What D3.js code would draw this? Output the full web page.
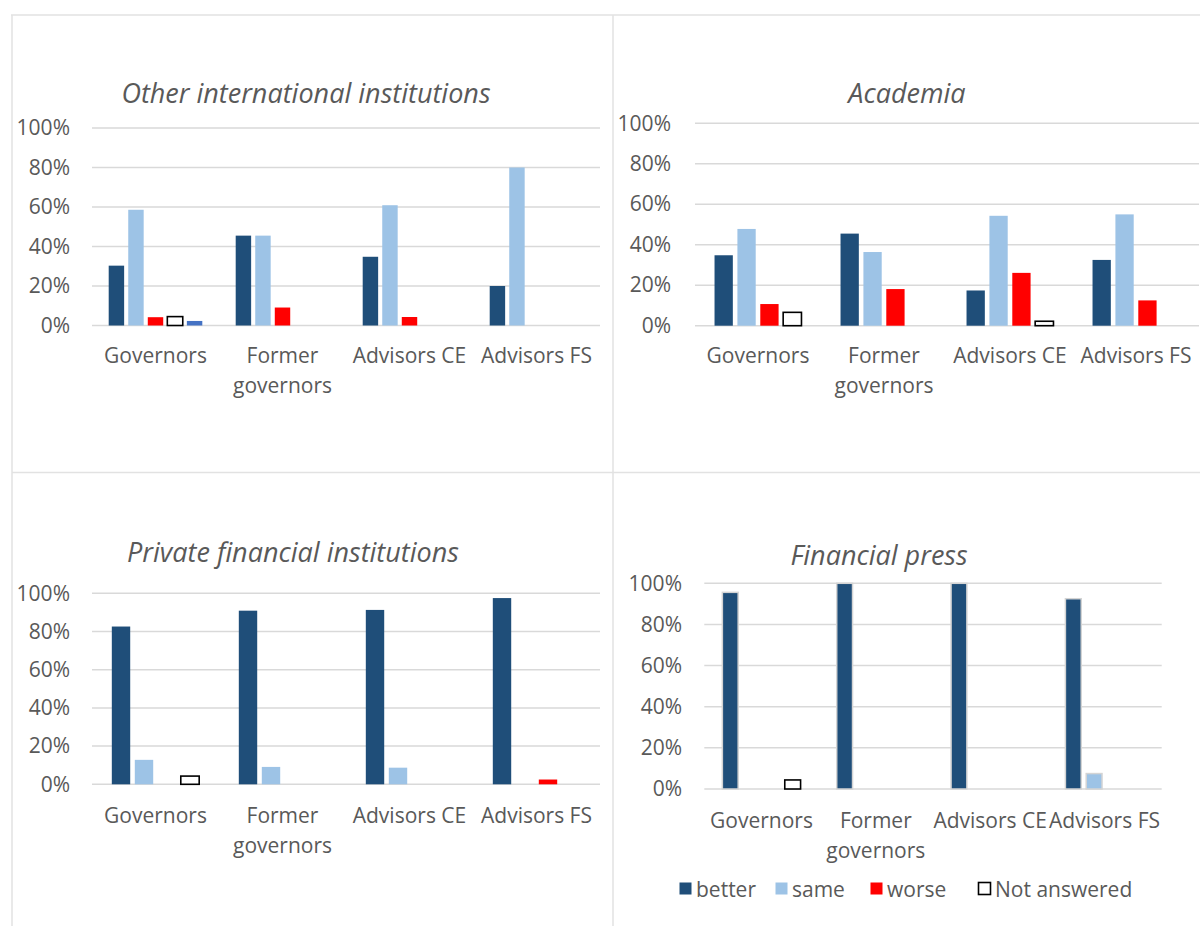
<!DOCTYPE html>
<html>
<head>
<meta charset="utf-8">
<script src="https://cdn.jsdelivr.net/npm/d3@7"></script>
<style>
  html, body { margin: 0; padding: 0; background: #fff; }
  svg { display: block; }
  text { font-family: "Open Sans", "Noto Sans", sans-serif; fill: #595959; }
</style>
</head>
<body>
<svg id="chart" width="1200" height="926"></svg>
<script>
// Respondent groups shown on every panel
const categories = ["Governors", "Former governors", "Advisors CE", "Advisors FS"];
const yTicks = [0, 20, 40, 60, 80, 100];

// Answer options (legend order); "other" only appears in the first panel
const seriesNames = ["better", "same", "worse", "Not answered"];
const legendLabels = ["better", "same", "worse", "Not answered"];

// Other international institutions (% of respondents)
const otherIntlBetter = [30.3, 45.5, 34.8, 20.0];
const otherIntlSame   = [58.6, 45.5, 60.9, 80.0];
const otherIntlWorse  = [4.2, 9.1, 4.3, 0];
const otherIntlNA     = [4.5, 0, 0, 0];
const otherIntlOther  = [2.3, 0, 0, 0];

// Academia
const academiaBetter = [34.8, 45.5, 17.4, 32.5];
const academiaSame   = [47.8, 36.4, 54.3, 55.0];
const academiaWorse  = [10.7, 18.1, 26.1, 12.5];
const academiaNA     = [6.6, 0, 2.2, 0];

// Private financial institutions
const privateBetter = [82.6, 90.9, 91.3, 97.5];
const privateSame   = [12.8, 9.1, 8.7, 0];
const privateWorse  = [0, 0, 0, 2.5];
const privateNA     = [4.3, 0, 0, 0];

// Financial press
const pressBetter = [95.6, 100, 100, 92.5];
const pressSame   = [0, 0, 0, 7.5];
const pressWorse  = [0, 0, 0, 0];
const pressNA     = [4.4, 0, 0, 0];

const colors = {
  "better": "#1F4E79",
  "same": "#9DC3E6",
  "worse": "#FF0000",
  "Not answered": "#FFFFFF",
  "other": "#4472C4"
};

const svg = d3.select("#chart");

// Panel frame lines
const frame = svg.append("g").attr("stroke", "#e2e2e2").attr("stroke-width", 1.5);
frame.append("line").attr("x1", 11).attr("x2", 1200).attr("y1", 15).attr("y2", 15);
frame.append("line").attr("x1", 12).attr("x2", 12).attr("y1", 15).attr("y2", 926);
frame.append("line").attr("x1", 613).attr("x2", 613).attr("y1", 15).attr("y2", 926);
frame.append("line").attr("x1", 12).attr("x2", 1200).attr("y1", 472.5).attr("y2", 472.5);

const panels = [
  {
    title: "Other international institutions", titleX: 306, titleY: 103,
    left: 92, right: 600, top: 128, bottom: 325.5, labelRight: 70,
    series: ["better", "same", "worse", "Not answered", "other"],
    values: [otherIntlBetter, otherIntlSame, otherIntlWorse, otherIntlNA, otherIntlOther],
    groupFrac: 0.737, pad: 0.21, catY: 363, stroke: null
  },
  {
    title: "Academia", titleX: 907, titleY: 103,
    left: 695, right: 1199, top: 123.3, bottom: 325.7, labelRight: 671,
    series: seriesNames,
    values: [academiaBetter, academiaSame, academiaWorse, academiaNA],
    groupFrac: 0.69, pad: 0.2, catY: 363, stroke: null
  },
  {
    title: "Private financial institutions", titleX: 293, titleY: 562,
    left: 92, right: 600, top: 593.3, bottom: 784.3, labelRight: 70,
    series: seriesNames,
    values: [privateBetter, privateSame, privateWorse, privateNA],
    groupFrac: 0.688, pad: 0.2, catY: 823, stroke: null
  },
  {
    title: "Financial press", titleX: 879, titleY: 565,
    left: 704.3, right: 1161.7, top: 583.3, bottom: 789, labelRight: 682,
    series: seriesNames,
    values: [pressBetter, pressSame, pressWorse, pressNA],
    groupFrac: 0.684, pad: 0.24, catY: 828, stroke: "#d4d4d4"
  }
];

panels.forEach(p => {
  const g = svg.append("g");

  const y = d3.scaleLinear().domain([0, 100]).range([p.bottom, p.top]);
  const x0 = d3.scaleBand().domain(categories).range([p.left, p.right]).padding(0);
  const groupW = x0.step() * p.groupFrac;
  const x1 = d3.scaleBand().domain(p.series)
    .range([-groupW / 2, groupW / 2])
    .paddingInner(p.pad).paddingOuter(0);

  // Title
  g.append("text")
    .attr("x", p.titleX).attr("y", p.titleY)
    .attr("text-anchor", "middle")
    .attr("font-style", "italic")
    .attr("font-size", 27)
    .text(p.title);

  // Gridlines
  g.append("g").selectAll("line").data(yTicks).join("line")
    .attr("x1", p.left).attr("x2", p.right)
    .attr("y1", d => y(d)).attr("y2", d => y(d))
    .attr("stroke", "#d9d9d9").attr("stroke-width", 1.5);

  // Y axis tick labels
  const yAxis = d3.axisLeft(y).tickValues(yTicks).tickFormat(d => d + "%").tickSize(0).tickPadding(0);
  const ya = g.append("g").attr("transform", `translate(${p.labelRight},0)`).call(yAxis);
  ya.select(".domain").remove();
  ya.selectAll("text")
    .attr("font-size", 21)
    .attr("font-family", "'Open Sans', sans-serif")
    .attr("fill", "#595959");

  // Bars
  const rows = [];
  p.series.forEach((s, si) => {
    categories.forEach((c, ci) => {
      rows.push({ series: s, cat: c, value: p.values[si][ci] });
    });
  });
  g.append("g").selectAll("rect")
    .data(rows.filter(d => d.value > 0))
    .join("rect")
    .attr("x", d => x0(d.cat) + x0.bandwidth() / 2 + x1(d.series))
    .attr("width", x1.bandwidth())
    .attr("y", d => y(d.value))
    .attr("height", d => y(0) - y(d.value))
    .attr("fill", d => colors[d.series])
    .attr("stroke", d => d.series === "Not answered" ? "#000" : p.stroke)
    .attr("stroke-width", d => d.series === "Not answered" ? 1.6 : (p.stroke ? 1.5 : 0));

  // Category labels (wrapped to two lines where needed)
  const catG = g.append("g");
  categories.forEach(c => {
    const cx = x0(c) + x0.bandwidth() / 2;
    const lines = c === "Former governors" ? ["Former", "governors"] : [c];
    const t = catG.append("text")
      .attr("x", cx).attr("y", p.catY)
      .attr("text-anchor", "middle")
      .attr("font-size", 21);
    lines.forEach((ln, i) => {
      t.append("tspan").attr("x", cx).attr("dy", i === 0 ? 0 : 30).text(ln);
    });
  });
});

// Legend below the financial press panel
const legendX = [679, 775, 870, 978];
const legend = svg.append("g");
legendLabels.forEach((name, i) => {
  const lg = legend.append("g").attr("transform", `translate(${legendX[i]},882)`);
  lg.append("rect")
    .attr("x", 0.5).attr("y", 0.5).attr("width", 12).attr("height", 12)
    .attr("fill", colors[name])
    .attr("stroke", name === "Not answered" ? "#000" : "none")
    .attr("stroke-width", 1.6);
  lg.append("text")
    .attr("x", 17).attr("y", 14.5)
    .attr("font-size", 21)
    .text(name);
});
</script>
</body>
</html>
